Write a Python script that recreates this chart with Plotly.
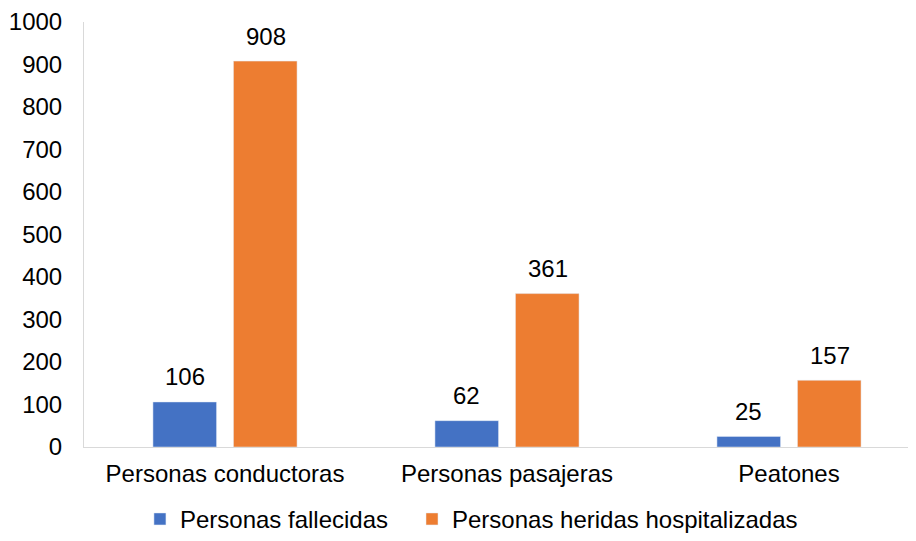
import plotly.graph_objects as go

categories = ["Personas conductoras", "Personas pasajeras", "Peatones"]
fallecidas = [106, 62, 25]
heridas = [908, 361, 157]
series_names = ["Personas fallecidas", "Personas heridas hospitalizadas"]
y_ticks = [0, 100, 200, 300, 400, 500, 600, 700, 800, 900, 1000]

FONT = "Liberation Sans, Arial, sans-serif"
FS = 24

fig = go.Figure()
fig.add_trace(go.Bar(x=categories, y=fallecidas, name=series_names[0],
                     marker=dict(color="#4472C4"), legend="legend"))
fig.add_trace(go.Bar(x=categories, y=heridas, name=series_names[1],
                     marker=dict(color="#ED7D31"), legend="legend2"))

# data labels centred over each bar (offset = half a bar slot)
for vals, shift in ((fallecidas, -40.5), (heridas, 40.5)):
    for c, v in zip(categories, vals):
        fig.add_annotation(x=c, y=v, xref="x", yref="y", text=str(v), showarrow=False,
                           xshift=shift, yshift=25, yanchor="middle",
                           font=dict(size=FS, color="#000000", family=FONT))

leg_common = dict(orientation="h", xref="container", yref="container",
                  xanchor="left", y=0.026, yanchor="middle",
                  font=dict(size=FS, color="#000000", family=FONT),
                  bgcolor="rgba(0,0,0,0)")

# page body has an 8px default margin on every side, so the figure is sized
# to fit inside the 916x541 window without scrollbars
fig.update_layout(
    width=900, height=525,
    margin=dict(l=76, r=0, t=14, b=86),
    paper_bgcolor="white", plot_bgcolor="white",
    font=dict(family=FONT, size=FS, color="#000000"),
    barmode="group", bargap=0.429, bargroupgap=0.21,
    showlegend=True,
    legend=dict(x=0.1466, **leg_common),
    legend2=dict(x=0.4489, **leg_common),
    xaxis=dict(range=[-0.5, 2.422], showline=True, linecolor="#D9D9D9", linewidth=1,
               ticks="", showgrid=False, zeroline=False, ticklabelstandoff=5,
               automargin=False),
    yaxis=dict(range=[0, 1000], tickvals=y_ticks, showline=True, linecolor="#D9D9D9",
               linewidth=1, ticks="", showgrid=False, zeroline=False, ticklabelstandoff=16,
               automargin=False),
)

fig.write_html("out.html")
